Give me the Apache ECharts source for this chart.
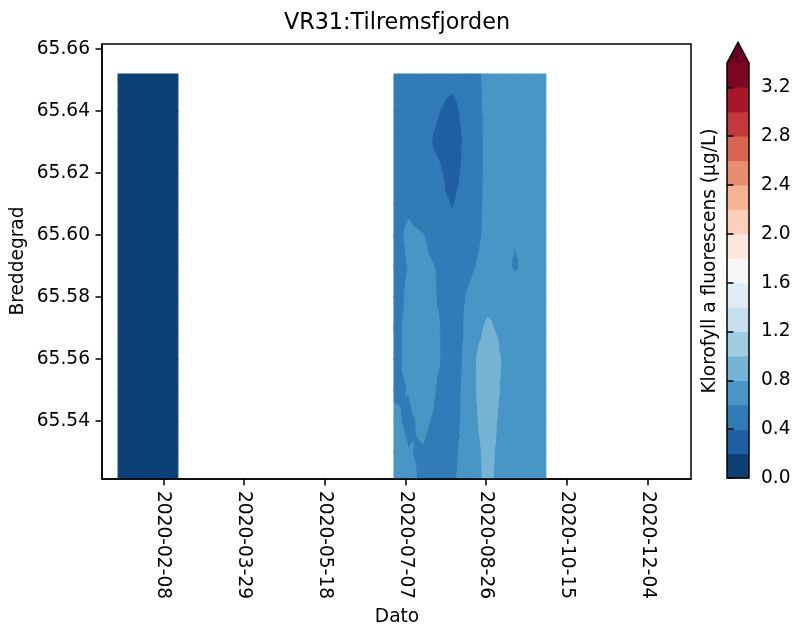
<!DOCTYPE html>
<html>
<head>
<meta charset="utf-8">
<script src="https://cdn.jsdelivr.net/npm/echarts@6/dist/echarts.min.js"></script>
<style>
  html, body { margin: 0; padding: 0; background: #fff; }
  #chart { width: 795px; height: 626px; }
</style>
</head>
<body>
<div id="chart"></div>
<script>
// Latitude rows of the gridded section (south to north)
const latitudes = [65.5213, 65.53, 65.54, 65.55, 65.56, 65.57, 65.58, 65.59, 65.60, 65.61, 65.62, 65.63, 65.64, 65.65, 65.6519];

// Winter survey: chlorophyll a fluorescence (µg/L), one column per date, values bottom to top
const winterDates = ['2020-01-11', '2020-02-17'];
const winterChl = [
  [0.12, 0.12, 0.13, 0.13, 0.12, 0.12, 0.11, 0.11, 0.12, 0.12, 0.13, 0.12, 0.12, 0.11, 0.11],
  [0.13, 0.12, 0.12, 0.12, 0.13, 0.13, 0.12, 0.12, 0.11, 0.12, 0.12, 0.12, 0.13, 0.12, 0.12]
];

// Summer/autumn survey
const summerDates = ['2020-06-30', '2020-07-09', '2020-07-18', '2020-07-27', '2020-08-05', '2020-08-14',
                     '2020-08-27', '2020-09-06', '2020-09-13', '2020-09-22', '2020-10-02'];
const summerChl = [
  [0.70, 0.68, 0.64, 0.57, 0.52, 0.50, 0.50, 0.50, 0.52, 0.50, 0.48, 0.47, 0.48, 0.50, 0.50],
  [0.68, 0.605, 0.56, 0.605, 0.66, 0.67, 0.64, 0.61, 0.64, 0.56, 0.50, 0.48, 0.47, 0.50, 0.50],
  [0.53, 0.585, 0.64, 0.72, 0.74, 0.74, 0.72, 0.66, 0.605, 0.48, 0.45, 0.44, 0.45, 0.48, 0.50],
  [0.50, 0.50, 0.55, 0.58, 0.62, 0.62, 0.59, 0.58, 0.47, 0.45, 0.43, 0.37, 0.41, 0.46, 0.48],
  [0.56, 0.54, 0.52, 0.50, 0.48, 0.48, 0.50, 0.48, 0.44, 0.39, 0.33, 0.30, 0.33, 0.45, 0.48],
  [0.69, 0.68, 0.66, 0.66, 0.65, 0.63, 0.61, 0.55, 0.50, 0.47, 0.45, 0.44, 0.47, 0.50, 0.50],
  [0.84, 0.85, 0.91, 0.96, 0.97, 0.84, 0.72, 0.66, 0.64, 0.64, 0.64, 0.64, 0.64, 0.64, 0.64],
  [0.72, 0.73, 0.71, 0.74, 0.76, 0.73, 0.70, 0.66, 0.68, 0.69, 0.70, 0.70, 0.69, 0.68, 0.68],
  [0.70, 0.70, 0.70, 0.72, 0.72, 0.72, 0.75, 0.57, 0.62, 0.68, 0.70, 0.70, 0.70, 0.70, 0.70],
  [0.72, 0.70, 0.68, 0.70, 0.72, 0.70, 0.70, 0.70, 0.68, 0.70, 0.70, 0.72, 0.70, 0.70, 0.70],
  [0.70, 0.70, 0.70, 0.70, 0.70, 0.70, 0.70, 0.70, 0.70, 0.70, 0.70, 0.70, 0.70, 0.70, 0.70]
];

// Filled contour levels (upper end extended)
const levels = [0.0, 0.2, 0.4, 0.6, 0.8, 1.0, 1.2, 1.4, 1.6, 1.8, 2.0, 2.2, 2.4, 2.6, 2.8, 3.0, 3.2, 3.4];
const colorbarTicks = [0.0, 0.4, 0.8, 1.2, 1.6, 2.0, 2.4, 2.8, 3.2];
const dateTicks = ['2020-02-08', '2020-03-29', '2020-05-18', '2020-07-07', '2020-08-26', '2020-10-15', '2020-12-04'];
const latTicks = [65.54, 65.56, 65.58, 65.60, 65.62, 65.64, 65.66];
const dateRange = ['2020-01-01', '2020-12-31'];
const latRange = [65.5213, 65.6616];

const FONT = "'DejaVu Sans', sans-serif";
const FS = 18.6;
const toTime = s => Date.parse(s + 'T00:00:00Z');
const fmtDate = v => new Date(v).toISOString().slice(0, 10);

// RdBu reversed colour map
const RDBU_R = ['#053061', '#2166ac', '#4393c3', '#92c5de', '#d1e5f0', '#f7f7f7',
                '#fddbc7', '#f4a582', '#d6604d', '#b2182b', '#67001f'];
function hexToRgb(h) { return [1, 3, 5].map(i => parseInt(h.slice(i, i + 2), 16)); }
function cmap(t) {
  t = Math.max(0, Math.min(1, t));
  const p = t * (RDBU_R.length - 1);
  const k = Math.min(RDBU_R.length - 2, Math.floor(p));
  const f = p - k;
  const a = hexToRgb(RDBU_R[k]), b = hexToRgb(RDBU_R[k + 1]);
  const c = a.map((v, i) => Math.round(v + f * (b[i] - v)));
  return 'rgb(' + c.join(',') + ')';
}
const nBands = levels.length - 1;
const bandColors = levels.slice(0, -1).map((_, k) => cmap((k + 0.5) / nBands));
const overColor = cmap(1);

// Bands as [lo, hi, colour]; the last one is the extended "over" band
const bands = bandColors.map((c, k) => [levels[k], levels[k + 1], c]).concat([[levels[nBands], Infinity, overColor]]);
function bandOf(v) {
  for (let k = 0; k < bands.length; k++) if (v >= bands[k][0] && v < bands[k][1]) return k;
  return -1;
}

const blocks = [
  { t: winterDates.map(toTime), v: winterChl },
  { t: summerDates.map(toTime), v: summerChl }
];

// One custom-series item per grid cell: [x, y, block, col, row]
const cells = [];
blocks.forEach((blk, b) => {
  for (let i = 0; i < blk.t.length - 1; i++) {
    for (let j = 0; j < latitudes.length - 1; j++) {
      cells.push([blk.t[i], latitudes[j], b, i, j]);
    }
  }
});

// Keep the part of a polygon whose (linearly varying) value is on one side of thr
function clip(poly, thr, keepAbove) {
  const out = [];
  const inside = p => keepAbove ? p[2] >= thr : p[2] < thr;
  for (let k = 0; k < poly.length; k++) {
    const a = poly[k], b = poly[(k + 1) % poly.length];
    const ain = inside(a), bin = inside(b);
    if (ain) out.push(a);
    if (ain !== bin) {
      const t = (thr - a[2]) / (b[2] - a[2]);
      out.push([a[0] + t * (b[0] - a[0]), a[1] + t * (b[1] - a[1]), thr]);
    }
  }
  return out;
}

function fillPoly(points, color) {
  return {
    type: 'polygon',
    shape: { points },
    style: { fill: color, stroke: color, lineWidth: 1.2, lineJoin: 'round' }
  };
}

function renderCell(params, api) {
  const blk = blocks[api.value(2)];
  const i = api.value(3), j = api.value(4);
  const corners = [[i, j], [i + 1, j], [i + 1, j + 1], [i, j + 1]];
  const pts = corners.map(([ci, rj]) => {
    const p = api.coord([blk.t[ci], latitudes[rj]]);
    return [p[0], p[1], blk.v[ci][rj]];
  });
  const cornerBands = pts.map(p => bandOf(p[2]));
  // Whole cell inside one band: a single quad
  if (cornerBands.every(k => k === cornerBands[0]) && cornerBands[0] >= 0) {
    return { type: 'group', children: [fillPoly(pts.map(p => [p[0], p[1]]), bands[cornerBands[0]][2])] };
  }
  const center = [0, 1, 2].map(d => pts.reduce((s, p) => s + p[d], 0) / 4);
  const children = [];
  for (let k = 0; k < 4; k++) {
    const tri = [pts[k], pts[(k + 1) % 4], center];
    const vmin = Math.min(...tri.map(p => p[2])), vmax = Math.max(...tri.map(p => p[2]));
    bands.forEach(([lo, hi, color]) => {
      if (vmax < lo || vmin >= hi) return;
      let poly = clip(tri, lo, true);
      if (hi !== Infinity && poly.length >= 3) poly = clip(poly, hi, false);
      if (poly.length < 3) return;
      children.push(fillPoly(poly.map(p => [p[0], p[1]]), color));
    });
  }
  return { type: 'group', children };
}

function renderColorbarBand(params, api) {
  const k = api.value(3);
  const p0 = api.coord([0, api.value(1)]);
  const p1 = api.coord([1, api.value(2)]);
  return {
    type: 'rect',
    shape: { x: p0[0], y: p1[1], width: p1[0] - p0[0], height: p0[1] - p1[1] + 0.5 },
    style: { fill: bandColors[k] }
  };
}

function renderColorbarFrame(params, api) {
  const top = levels[nBands];
  const apexVal = top * 1.05;
  const bl = api.coord([0, levels[0]]), br = api.coord([1, levels[0]]);
  const tl = api.coord([0, top]), tr = api.coord([1, top]);
  const apex = api.coord([0.5, apexVal]);
  return {
    type: 'group',
    children: [
      { type: 'polygon', shape: { points: [tl, tr, apex] }, style: { fill: overColor } },
      { type: 'polygon', shape: { points: [bl, tl, apex, tr, br] },
        style: { fill: 'none', stroke: '#000', lineWidth: 1.5 } }
    ]
  };
}

const chart = echarts.init(document.getElementById('chart'), null, { renderer: 'canvas' });
const axisText = { color: '#000', fontSize: FS, fontFamily: FONT };
const axisLine = { show: true, onZero: false, lineStyle: { color: '#000', width: 1.5 } };
const tickStyle = { color: '#000', width: 1.5 };
chart.setOption({
  backgroundColor: '#fff',
  animation: false,
  title: {
    text: 'VR31:Tilremsfjorden', left: 397, top: 12, textAlign: 'center', padding: 0,
    textStyle: { color: '#000', fontSize: 22.3, fontWeight: 'normal', fontFamily: FONT }
  },
  grid: [
    { left: 102, top: 44, width: 589, height: 435, show: true, borderColor: '#000', borderWidth: 1.5, backgroundColor: 'transparent' },
    { left: 727, top: 63, width: 22, height: 415 }
  ],
  xAxis: [
    {
      gridIndex: 0, type: 'value', min: toTime(dateRange[0]), max: toTime(dateRange[1]), z: 5,
      axisLine,
      axisTick: { show: true, customValues: dateTicks.map(toTime), length: 6.5, lineStyle: tickStyle },
      axisLabel: Object.assign({ customValues: dateTicks.map(toTime), rotate: -90, margin: 12, formatter: fmtDate }, axisText),
      splitLine: { show: false }
    },
    { gridIndex: 1, type: 'value', min: 0, max: 1, show: false }
  ],
  yAxis: [
    {
      gridIndex: 0, type: 'value', min: latRange[0], max: latRange[1], z: 5,
      axisLine,
      axisTick: { show: true, customValues: latTicks, length: 6.5, lineStyle: tickStyle },
      axisLabel: Object.assign({ customValues: latTicks, margin: 12, formatter: v => v.toFixed(2) }, axisText),
      splitLine: { show: false }
    },
    {
      gridIndex: 1, type: 'value', min: levels[0], max: levels[nBands], position: 'right', z: 5,
      axisLine: { show: false },
      axisTick: { show: true, customValues: colorbarTicks, length: 6.5, lineStyle: tickStyle },
      axisLabel: Object.assign({ customValues: colorbarTicks, margin: 12, formatter: v => v.toFixed(1) }, axisText),
      splitLine: { show: false }
    }
  ],
  series: [
    {
      type: 'custom', xAxisIndex: 0, yAxisIndex: 0, coordinateSystem: 'cartesian2d',
      renderItem: renderCell, data: cells, clip: true, silent: true, z: 1,
      encode: { x: 0, y: 1 }
    },
    {
      type: 'custom', xAxisIndex: 1, yAxisIndex: 1, coordinateSystem: 'cartesian2d',
      renderItem: renderColorbarBand, silent: true, z: 1,
      data: levels.slice(0, -1).map((lo, k) => [0.5, lo, levels[k + 1], k]),
      encode: { x: 0, y: 1 }
    },
    {
      type: 'custom', xAxisIndex: 1, yAxisIndex: 1, coordinateSystem: 'cartesian2d',
      renderItem: renderColorbarFrame, silent: true, clip: false, z: 2,
      data: [[0.5, levels[nBands]]], encode: { x: 0, y: 1 }
    }
  ],
  graphic: [
    { type: 'text', x: 397, y: 617, style: { text: 'Dato', fill: '#000', font: FS + 'px ' + FONT, align: 'center', verticalAlign: 'middle' } },
    { type: 'text', x: 18, y: 261, rotation: Math.PI / 2, style: { text: 'Breddegrad', fill: '#000', font: FS + 'px ' + FONT, align: 'center', verticalAlign: 'middle' } },
    { type: 'text', x: 710, y: 261, rotation: Math.PI / 2, style: { text: 'Klorofyll a fluorescens (µg/L)', fill: '#000', font: FS + 'px ' + FONT, align: 'center', verticalAlign: 'middle' } }
  ]
});
</script>
</body>
</html>
